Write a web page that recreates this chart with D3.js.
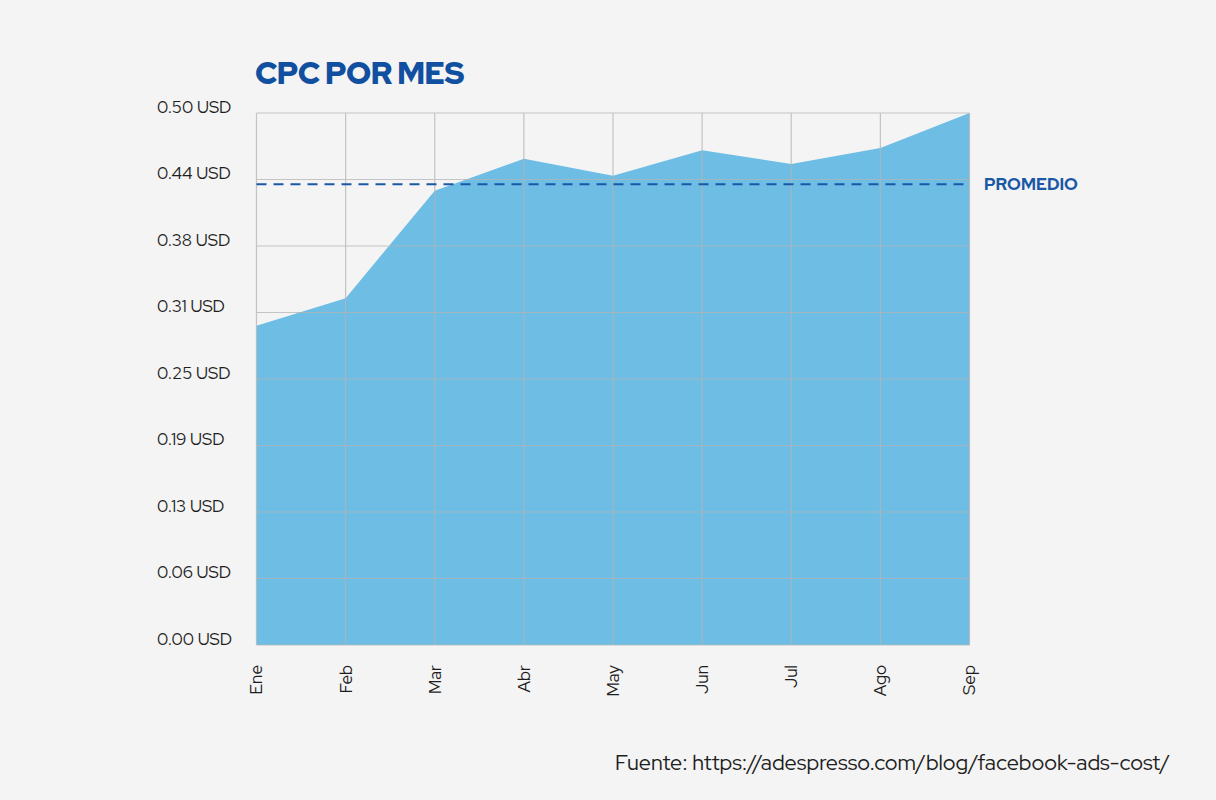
<!DOCTYPE html>
<html><head><meta charset="utf-8">
<script src="https://cdn.jsdelivr.net/npm/d3@7"></script>
<style>
html,body{margin:0;padding:0;background:#f4f4f4;}
svg{display:block;}
</style></head>
<body>
<svg id="chart" width="1216" height="800"></svg>
<script>
const months = ["Ene","Feb","Mar","Abr","May","Jun","Jul","Ago","Sep"];
const cpc = [0.300, 0.326, 0.427, 0.457, 0.441, 0.465, 0.452, 0.467, 0.500];
const promedio = 0.433;
const tickValues = [0, 0.0625, 0.125, 0.1875, 0.25, 0.3125, 0.375, 0.4375, 0.5];
const tickLabels = ["0.00 USD","0.06 USD","0.13 USD","0.19 USD","0.25 USD","0.31 USD","0.38 USD","0.44 USD","0.50 USD"];
const title = "CPC POR MES";
const avgLabel = "PROMEDIO";
const source = "Fuente: https://adespresso.com/blog/facebook-ads-cost/";

const svg = d3.select("#chart");
svg.append("rect").attr("width",1216).attr("height",800).attr("fill","#f4f4f4");

const x = d3.scalePoint().domain(months).range([256.5, 969.5]);
const y = d3.scaleLinear().domain([0, 0.5]).range([645, 113]);

const font = "'Red Hat Display', Inter, 'Noto Sans', sans-serif";

// area
const data = months.map((m,i)=>({m, v:cpc[i]}));
svg.append("path").datum(data)
  .attr("fill","#6ebde5")
  .attr("d", d3.area().x(d=>x(d.m)).y0(y(0)).y1(d=>y(d.v)));

// grid
const grid = svg.append("g").attr("stroke","#b4b4b4").attr("stroke-width",1.2).attr("opacity",0.75);
grid.selectAll("line.h").data(tickValues).join("line")
  .attr("x1", x.range()[0]).attr("x2", x.range()[1])
  .attr("y1", d=>y(d)).attr("y2", d=>y(d));
grid.selectAll("line.v").data(months).join("line")
  .attr("x1", d=>x(d)).attr("x2", d=>x(d))
  .attr("y1", y(0.5)).attr("y2", y(0));

// y axis labels
const yAxis = d3.axisLeft(y).tickValues(tickValues).tickFormat((d,i)=>tickLabels[i]).tickSize(0);
const yg = svg.append("g").attr("transform","translate(157,0)").call(yAxis);
yg.select(".domain").remove();
yg.selectAll("text").attr("x",0).attr("dy","-0.05em").attr("text-anchor","start")
  .attr("font-family",font).attr("font-size",17).attr("fill","#1e1e1e");

// x axis labels
const xAxis = d3.axisBottom(x).tickSize(0);
const xg = svg.append("g").attr("transform","translate(0,665)").call(xAxis);
xg.select(".domain").remove();
xg.selectAll("text").attr("transform","rotate(-90)").attr("x",0).attr("y",0)
  .attr("dx",0).attr("dy","0.32em").attr("text-anchor","end")
  .attr("font-family",font).attr("font-size",17).attr("fill","#1e1e1e");

// average line
svg.append("line")
  .attr("x1", x.range()[0]).attr("x2", x.range()[1])
  .attr("y1", y(promedio)).attr("y2", y(promedio))
  .attr("stroke","#1a58a6").attr("stroke-width",2).attr("stroke-dasharray","10,7");
svg.append("text").attr("x",984).attr("y",y(promedio)).attr("dy","0.35em")
  .attr("font-family",font).attr("font-weight",800).attr("font-size",17)
  .attr("fill","#1a58a6").text(avgLabel);

// title
svg.append("text").attr("x",255).attr("y",84)
  .attr("font-family",font).attr("font-weight",900).attr("font-size",31)
  .attr("fill","#1150a0").attr("letter-spacing","-0.5").text(title);

// source
svg.append("text").attr("x",1170).attr("y",770).attr("text-anchor","end")
  .attr("font-family",font).attr("font-size",21.5).attr("fill","#1e1e1e").text(source);
</script>
</body></html>
